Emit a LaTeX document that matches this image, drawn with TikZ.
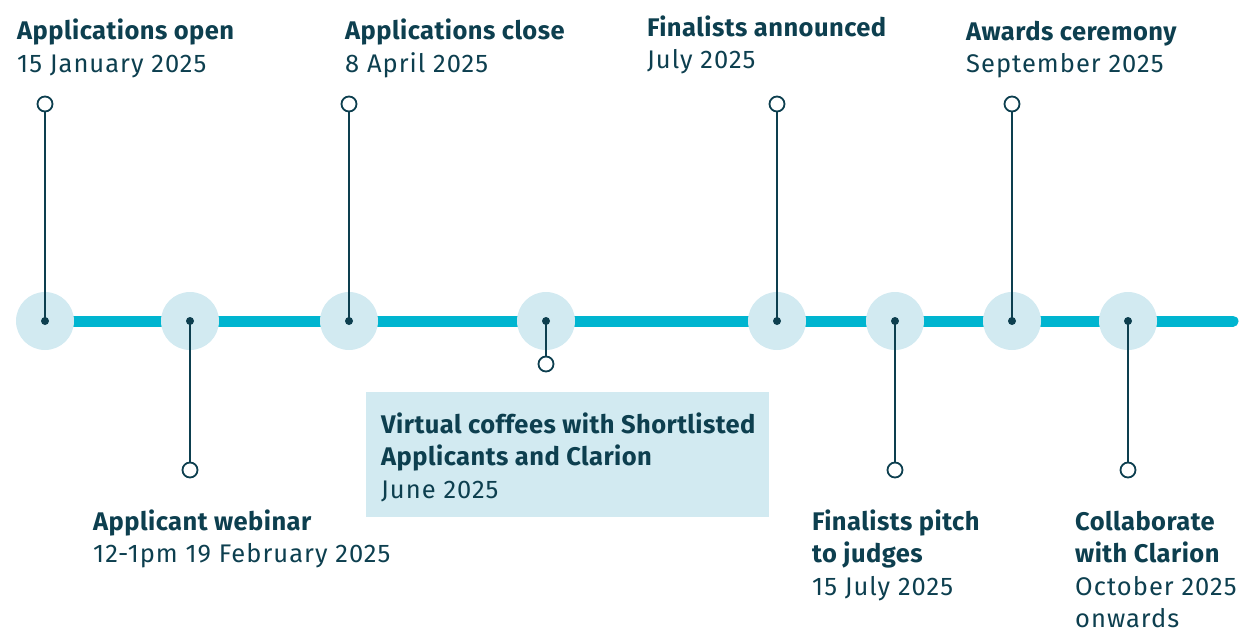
\documentclass[tikz,border=0pt]{standalone}
\usepackage{fontspec}
\setmainfont{Fira Sans}[LetterSpace=4.0, BoldFeatures={LetterSpace=1.8}]
\definecolor{ink}{HTML}{0D3F4F}
\definecolor{pale}{HTML}{D2EAF1}
\definecolor{cyanline}{HTML}{00B5D0}
\tikzset{
  hub/.style={circle, fill=pale, minimum size=58pt, inner sep=0pt},
  dotc/.style={circle, fill=ink, minimum size=8pt, inner sep=0pt},
  ring/.style={circle, draw=ink, line width=1.8pt, fill=white, minimum size=15pt, inner sep=0pt},
  stem/.style={draw=ink, line width=1.8pt},
  mainline/.style={draw=cyanline, line width=11pt, line cap=round},
  lbl/.style={anchor=base west, inner sep=0pt, align=left, text=ink,
    font=\fontsize{25.5}{32.5}\selectfont},
  coffeebox/.style={anchor=north west, fill=pale, inner sep=0pt,
    minimum width=403pt, minimum height=125pt}
}
\begin{document}
\begin{tikzpicture}[x=1pt,y=-1pt]
\useasboundingbox (0,0) rectangle (1239,632);
\coordinate (lineend) at (1233,321);
\coordinate (linestart) at (45,321);
\draw[mainline] (linestart) -- (lineend);
% hubs
\foreach \n/\x in {1/45,2/190,3/349,4/546,5/777,6/895,7/1012,8/1128}{
  \node[hub] (h\n) at (\x,321) {};
  \node[dotc] (d\n) at (h\n.center) {};
}
% rings above
\node[ring] (r1) at (45,104) {};
\node[ring] (r3) at (349,104) {};
\node[ring] (r5) at (777,104) {};
\node[ring] (r7) at (1012,104) {};
% rings below
\node[ring] (r2) at (190,470) {};
\node[ring] (r4) at (546,364) {};
\node[ring] (r6) at (895,470) {};
\node[ring] (r8) at (1128,470) {};
\foreach \n in {1,...,8}{ \draw[stem] (d\n.center) -- (r\n); }
% labels (anchor = baseline of last line)
\node[lbl] (t1) at (17,72) {\textbf{Applications open}\\15 January 2025};
\node[lbl] (t3) at (345,72) {\textbf{Applications close}\\8 April 2025};
\node[lbl] (t5) at (647,68.5) {\textbf{Finalists announced}\\July 2025};
\node[lbl] (t7) at (966,72.5) {\textbf{Awards ceremony}\\September 2025};
\node[lbl] (t2) at (93,562.5) {\textbf{Applicant webinar}\\12-1pm 19 February 2025};
\node[lbl] (t6) at (812,595) {\textbf{Finalists pitch}\\\textbf{to judges}\\15 July 2025};
\node[lbl] (t8) at (1075,627.5) {\textbf{Collaborate}\\\textbf{with Clarion}\\October 2025\\onwards};
\node[coffeebox] (box4) at (366,392) {};
\node[lbl] (t4) at (381,498) {\textbf{Virtual coffees with Shortlisted}\\\textbf{Applicants and Clarion}\\June 2025};
\end{tikzpicture}
\end{document}
